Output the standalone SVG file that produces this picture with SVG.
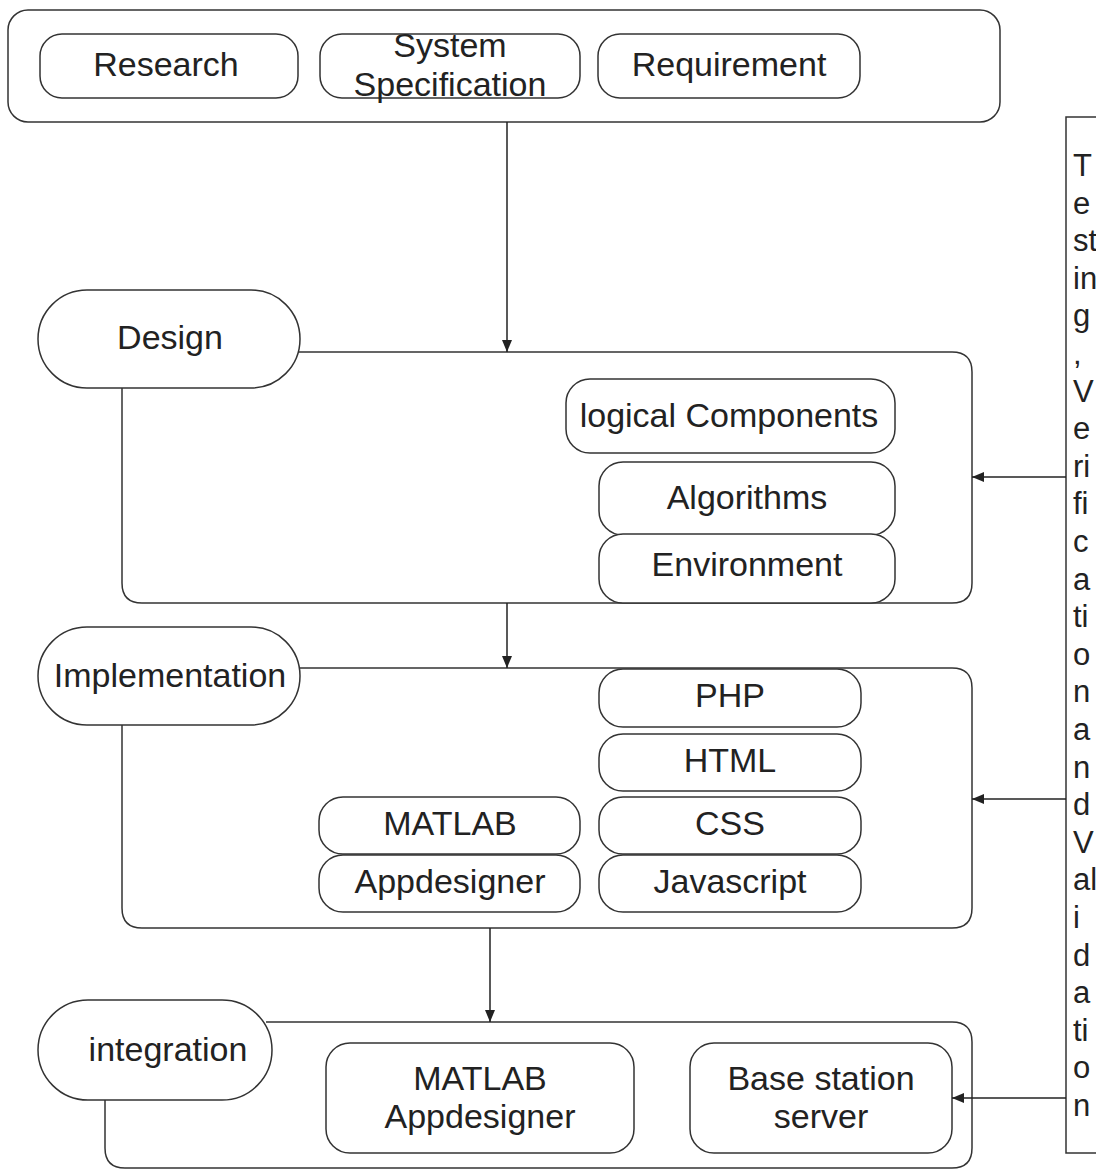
<svg xmlns="http://www.w3.org/2000/svg" width="1096" height="1169" viewBox="0 0 1096 1169">
<defs>
<marker id="arr" viewBox="0 0 12 10" refX="12" refY="5" markerWidth="12" markerHeight="10" markerUnits="userSpaceOnUse" orient="auto">
<path d="M0,0 L12,5 L0,10 Z" fill="#222"/>
</marker>
<style>
.box{fill:#fff;stroke:#333;stroke-width:1.5}
.frame{fill:none;stroke:#333;stroke-width:1.5}
.line{fill:none;stroke:#222;stroke-width:1.5}
.t{font-family:"Liberation Sans",Arial,sans-serif;font-size:34px;fill:#222;text-anchor:middle}
.v{font-family:"Liberation Sans",Arial,sans-serif;font-size:31px;fill:#222}
</style>
</defs>
<rect width="1096" height="1169" fill="#fff"/>

<g id="top-group">
<rect class="frame" x="8" y="10" width="992" height="112" rx="20"/>
</g>
<g id="research"><rect class="box" x="40" y="34" width="258" height="64" rx="22"/><text class="t" x="166" y="76">Research</text></g>
<g id="system-spec"><rect class="box" x="320" y="34" width="260" height="64" rx="22"/><text class="t" x="450" y="57">System</text><text class="t" x="450" y="96">Specification</text></g>
<g id="requirement"><rect class="box" x="598" y="34" width="262" height="64" rx="22"/><text class="t" x="729" y="76">Requirement</text></g>

<g id="design-frame"><path class="frame" d="M296,352 H952 Q972,352 972,372 V583 Q972,603 952,603 H142 Q122,603 122,583 V380"/></g>
<g id="design"><rect class="box" x="38" y="290" width="262" height="98" rx="49"/><text class="t" x="170" y="349">Design</text></g>
<g id="logical-components"><rect class="box" x="566" y="379" width="329" height="74" rx="24"/><text class="t" x="729" y="427">logical Components</text></g>
<g id="algorithms"><rect class="box" x="599" y="462" width="296" height="73" rx="24"/><text class="t" x="747" y="509">Algorithms</text></g>
<g id="environment"><rect class="box" x="599" y="534" width="296" height="69" rx="24"/><text class="t" x="747" y="576">Environment</text></g>

<g id="impl-frame"><path class="frame" d="M296,668 H952 Q972,668 972,688 V908 Q972,928 952,928 H142 Q122,928 122,908 V718"/></g>
<g id="implementation"><rect class="box" x="38" y="627" width="262" height="98" rx="49"/><text class="t" x="170" y="687">Implementation</text></g>
<g id="php"><rect class="box" x="599" y="669" width="262" height="58" rx="24"/><text class="t" x="730" y="707">PHP</text></g>
<g id="html"><rect class="box" x="599" y="734" width="262" height="57" rx="24"/><text class="t" x="730" y="772">HTML</text></g>
<g id="css"><rect class="box" x="599" y="797" width="262" height="57" rx="24"/><text class="t" x="730" y="835">CSS</text></g>
<g id="javascript"><rect class="box" x="599" y="855" width="262" height="57" rx="24"/><text class="t" x="730" y="893">Javascript</text></g>
<g id="matlab"><rect class="box" x="319" y="797" width="261" height="57" rx="24"/><text class="t" x="450" y="835">MATLAB</text></g>
<g id="appdesigner"><rect class="box" x="319" y="855" width="261" height="57" rx="24"/><text class="t" x="450" y="893">Appdesigner</text></g>

<g id="integ-frame"><path class="frame" d="M266,1022 H952 Q972,1022 972,1042 V1148 Q972,1168 952,1168 H125 Q105,1168 105,1148 V1090"/></g>
<g id="integration"><rect class="box" x="38" y="1000" width="234" height="100" rx="50"/><text class="t" x="168" y="1061">integration</text></g>
<g id="matlab-appdesigner"><rect class="box" x="326" y="1043" width="308" height="110" rx="24"/><text class="t" x="480" y="1090">MATLAB</text><text class="t" x="480" y="1128">Appdesigner</text></g>
<g id="base-station"><rect class="box" x="690" y="1043" width="262" height="110" rx="24"/><text class="t" x="821" y="1090">Base station</text><text class="t" x="821" y="1128">server</text></g>

<g id="testing">
<rect class="frame" x="1066" y="117" width="60" height="1036"/>
<text class="v" x="1073" y="176"><tspan x="1073">T</tspan><tspan x="1073" dy="37.6">e</tspan><tspan x="1073" dy="37.6">st</tspan><tspan x="1073" dy="37.6">in</tspan><tspan x="1073" dy="37.6">g</tspan><tspan x="1073" dy="37.6">,</tspan><tspan x="1073" dy="37.6">V</tspan><tspan x="1073" dy="37.6">e</tspan><tspan x="1073" dy="37.6">ri</tspan><tspan x="1073" dy="37.6">fi</tspan><tspan x="1073" dy="37.6">c</tspan><tspan x="1073" dy="37.6">a</tspan><tspan x="1073" dy="37.6">ti</tspan><tspan x="1073" dy="37.6">o</tspan><tspan x="1073" dy="37.6">n</tspan><tspan x="1073" dy="37.6">a</tspan><tspan x="1073" dy="37.6">n</tspan><tspan x="1073" dy="37.6">d</tspan><tspan x="1073" dy="37.6">V</tspan><tspan x="1073" dy="37.6">al</tspan><tspan x="1073" dy="37.6">i</tspan><tspan x="1073" dy="37.6">d</tspan><tspan x="1073" dy="37.6">a</tspan><tspan x="1073" dy="37.6">ti</tspan><tspan x="1073" dy="37.6">o</tspan><tspan x="1073" dy="37.6">n</tspan></text>
</g>

<g id="connectors">
<line class="line" x1="507" y1="122" x2="507" y2="352" marker-end="url(#arr)"/>
<line class="line" x1="507" y1="603" x2="507" y2="668" marker-end="url(#arr)"/>
<line class="line" x1="490" y1="928" x2="490" y2="1022" marker-end="url(#arr)"/>
<line class="line" x1="1066" y1="477" x2="972" y2="477" marker-end="url(#arr)"/>
<line class="line" x1="1066" y1="799" x2="972" y2="799" marker-end="url(#arr)"/>
<line class="line" x1="1066" y1="1098" x2="952" y2="1098" marker-end="url(#arr)"/>
</g>
</svg>
